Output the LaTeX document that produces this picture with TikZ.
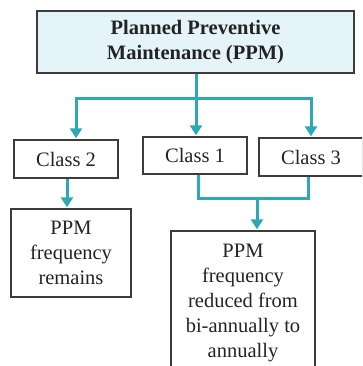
\documentclass[tikz,border=0pt]{standalone}
\usepackage{fontspec}
\setmainfont{Liberation Serif}
\usepackage{xcolor}
\usepackage{tikz}
\usetikzlibrary{arrows.meta,positioning,calc}
\definecolor{flowteal}{RGB}{45,168,182}
\definecolor{boxgray}{RGB}{60,60,60}
\definecolor{paleblue}{RGB}{228,244,249}
\definecolor{inkgray}{RGB}{35,35,35}
\tikzset{
  stagebox/.style={rectangle,draw=boxgray,line width=1.4pt,text=inkgray,align=center,inner sep=0pt},
  flowline/.style={line width=3pt,draw=flowteal,line cap=butt,line join=miter},
  flowarr/.style={flowline,-{Triangle[length=10pt,width=12pt]},shorten >=1pt}
}

\begin{document}
\begin{tikzpicture}[
  x=1pt,y=-1pt,
  boxfont/.style={font=\fontsize{20.5}{25}\selectfont},
  headbox/.style={stagebox,fill=paleblue,font=\fontsize{20.5}{25}\selectfont\bfseries}
]
  \useasboundingbox (0,0) rectangle (362,366);
  \clip (0,0) rectangle (362,366);

  % boxes
  \node[headbox,minimum width=317pt,minimum height=62pt] (ppm) at (195.5,42)
    {Planned Preventive\\Maintenance (PPM)};

  \node[stagebox,boxfont,minimum width=104pt,minimum height=38pt] (cls2) at (66,159) {Class 2};
  \node[stagebox,boxfont,minimum width=104pt,minimum height=37pt] (cls1) at (195,155.5) {Class 1};
  \node[stagebox,boxfont,minimum width=104pt,minimum height=38pt] (cls3) at (311,157) {Class 3};

  \node[stagebox,boxfont,minimum width=120pt,minimum height=88pt] (remain) at (71,253)
    {PPM\\frequency\\remains};
  \node[stagebox,boxfont,minimum width=144pt,minimum height=144pt] (annual) at (243,303)
    {PPM\\frequency\\reduced from\\bi-annually to\\annually};

  % connectors
  \coordinate (hub)  at (196,99);
  \coordinate (join) at (257,198);

  \draw[flowline] (ppm.south -| hub) -- (hub);
  \draw[flowarr] (hub) -| ([xshift=10pt]cls2.north);
  \draw[flowarr] (hub) -- (cls1.north -| hub);
  \draw[flowarr] (hub) -| (cls3.north);

  \draw[flowarr] ([xshift=1pt]cls2.south) -- ([xshift=1pt]cls2.south |- remain.north);

  \draw[flowline] ([xshift=3pt]cls1.south) |- (join) -| ([xshift=-3pt]cls3.south);
  \draw[flowarr] (join) -- (join |- annual.north);
\end{tikzpicture}
\end{document}
